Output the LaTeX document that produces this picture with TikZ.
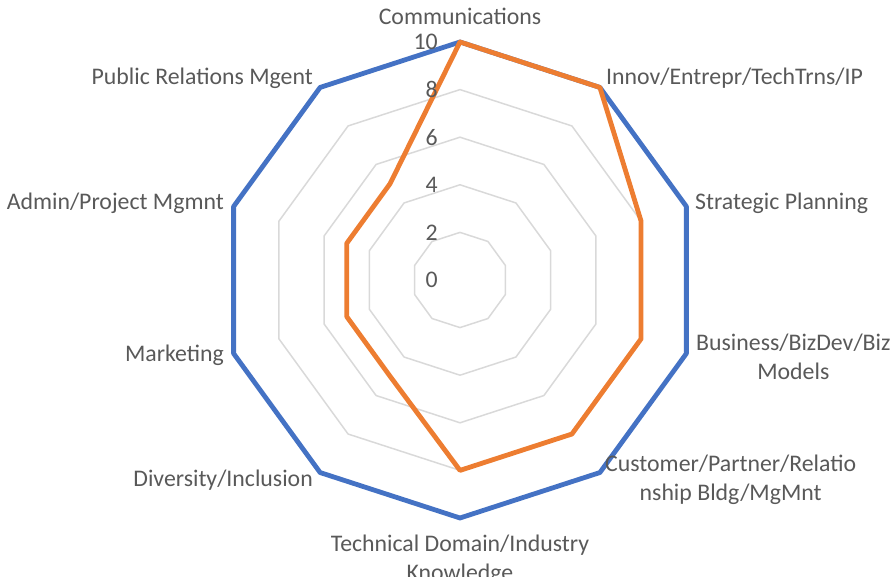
\documentclass[tikz,border=0pt]{standalone}
\usepackage{fontspec}
\setmainfont{Carlito}
\definecolor{txtgray}{HTML}{595959}
\definecolor{ringgray}{HTML}{D9D9D9}
\definecolor{serblue}{HTML}{4472C4}
\definecolor{serorange}{HTML}{ED7D31}
\begin{document}
\begin{tikzpicture}[x=1pt,y=1pt,
  lbl/.style={text=txtgray,font=\fontsize{23.8}{29}\selectfont,inner sep=0pt,align=center},
  ring/.style={draw=ringgray,line width=1.5pt,line join=round},
  seriesA/.style={draw=serblue,line width=4.8pt,line join=round},
  seriesB/.style={draw=serorange,line width=4.8pt,line join=round}]
\useasboundingbox (0,0) rectangle (894,577);
\begin{scope}[shift={(460,297)},scale=23.8]
  \foreach \r in {2,4,6,8,10}
    \draw[ring] (90:\r) -- (54:\r) -- (18:\r) -- (-18:\r) -- (-54:\r) -- (-90:\r) -- (-126:\r) -- (-162:\r) -- (162:\r) -- (126:\r) -- cycle;
  \draw[seriesA] (90:10) -- (54:10) -- (18:10) -- (-18:10) -- (-54:10) -- (-90:10) -- (-126:10) -- (-162:10) -- (162:10) -- (126:10) -- cycle;
  \draw[seriesB] (90:10) -- (54:10) -- (18:8) -- (-18:8) -- (-54:8) -- (-90:8) -- (-126:5) -- (-162:5) -- (162:5) -- (126:5) -- cycle;
\end{scope}
% axis value labels
\node[lbl,anchor=east] (v0) at (438,297) {0};
\node[lbl,anchor=east] (v2) at (438,344.6) {2};
\node[lbl,anchor=east] (v4) at (438,392.2) {4};
\node[lbl,anchor=east] (v6) at (438,439.8) {6};
\node[lbl,anchor=east] (v8) at (438,487.4) {8};
\node[lbl,anchor=east] (v10) at (438,535) {10};
% category labels
\node[lbl] (comm) at (460,561) {Communications};
\node[lbl,anchor=west] (innov) at (606,499) {Innov/Entrepr/TechTrns/IP};
\node[lbl,anchor=west] (strat) at (695,374) {Strategic Planning};
\node[lbl,anchor=west] (biz) at (696,220) {Business/BizDev/Biz\\Models};
\node[lbl,anchor=west] (cust) at (605,97.5) {Customer/Partner/Relatio\\nship Bldg/MgMnt};
\node[lbl] (tech) at (460,17) {Technical Domain/Industry\\Knowledge};
\node[lbl,anchor=east] (div) at (313,97) {Diversity/Inclusion};
\node[lbl,anchor=east] (mkt) at (224,222) {Marketing};
\node[lbl,anchor=east] (adm) at (224,374) {Admin/Project Mgmnt};
\node[lbl,anchor=east] (pr) at (313,499) {Public Relations Mgent};
\end{tikzpicture}
\end{document}
